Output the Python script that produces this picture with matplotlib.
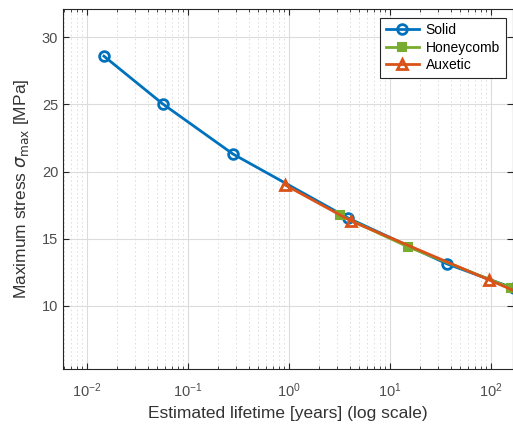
import matplotlib
matplotlib.use("Agg")
import matplotlib.pyplot as plt
from matplotlib.ticker import LogLocator, NullFormatter

plt.rcParams['font.family'] = ['Liberation Sans', 'DejaVu Sans']
plt.rcParams['mathtext.fontset'] = 'dejavusans'

# Data
solid_life = [0.0148, 0.0569, 0.281, 3.87, 37.0, 170.0]
solid_stress = [28.59, 25.02, 21.30, 16.54, 13.12, 11.3]

honey_life = [3.18, 15.3, 159.6]
honey_stress = [16.76, 14.38, 11.33]

aux_life = [0.92, 4.14, 96.4, 200.0]
aux_stress = [19.0, 16.32, 11.93, 10.9]

labels = ["Solid", "Honeycomb", "Auxetic"]
colors = ["#0072BD", "#77AC30", "#D95319"]

fig = plt.figure(figsize=(5.13, 4.24), dpi=100)
ax = fig.add_axes([0.1228, 0.1297, 0.8772, 0.8491])

ax.plot(solid_life, solid_stress, '-o', color=colors[0], lw=2, ms=7,
        mfc='none', mew=2, label=labels[0])
ax.plot(honey_life, honey_stress, '-s', color=colors[1], lw=2, ms=6,
        mfc=colors[1], mew=1.5, label=labels[1])
ax.plot(aux_life, aux_stress, '-^', color=colors[2], lw=2, ms=7,
        mfc='none', mew=2, label=labels[2])

ax.set_xscale('log')
ax.set_xlim(0.00582, 166)
ax.set_ylim(5.3, 32.1)
ax.set_yticks([10, 15, 20, 25, 30])
ax.xaxis.set_major_locator(LogLocator(base=10, numticks=10))
ax.xaxis.set_minor_locator(LogLocator(base=10, subs=range(2, 10), numticks=20))
ax.xaxis.set_minor_formatter(NullFormatter())

ax.grid(True, which='major', color='#dcdcdc', lw=0.8, ls='-')
ax.grid(True, which='minor', axis='x', color='#dadada', lw=0.6, ls=(0, (2, 3)))
ax.set_axisbelow(True)

tc = '#262626'
ax.tick_params(which='both', direction='in', top=True, right=True,
               colors=tc, labelsize=10.5, labelcolor='#4d4d4d')
ax.tick_params(which='major', length=4)
ax.tick_params(which='minor', length=2)
ax.tick_params(axis='x', pad=9)
for s in ax.spines.values():
    s.set_color(tc)
    s.set_linewidth(0.8)

ax.set_xlabel("Estimated lifetime [years] (log scale)", fontsize=12.5,
              color='#333333', labelpad=4)
ax.set_ylabel(r"Maximum stress $\sigma_{\mathrm{max}}$ [MPa]", fontsize=12.5,
              color='#333333', labelpad=8)

leg = ax.legend(loc='upper right', fontsize=10, fancybox=False, framealpha=1,
                edgecolor='#262626', handlelength=2.4, borderpad=0.4,
                labelspacing=0.25, handletextpad=0.5,
                bbox_to_anchor=(0.999, 0.995))
leg.get_frame().set_linewidth(0.8)

fig.savefig("out.png", dpi=100)
